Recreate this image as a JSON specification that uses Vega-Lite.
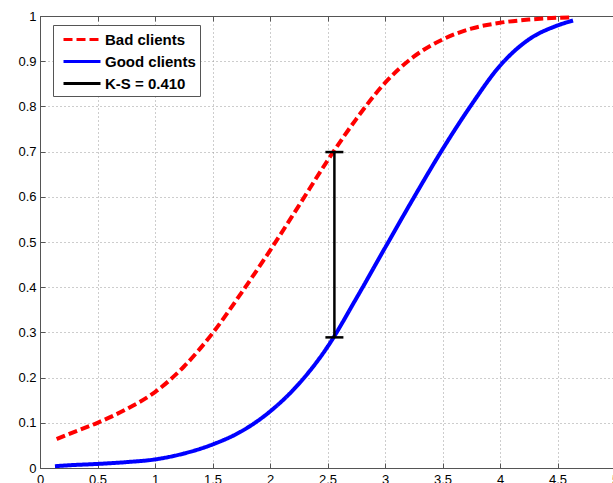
{
  "$schema": "https://vega.github.io/schema/vega-lite/v6.json",
  "width": 573,
  "height": 452,
  "autosize": "none",
  "padding": {"left": 40, "top": 16, "right": 0, "bottom": 15},
  "background": "white",
  "config": {
    "view": {"stroke": null},
    "font": "Liberation Sans",
    "axis": {
      "labelFont": "Liberation Sans",
      "labelFontSize": 13,
      "labelColor": "black",
      "domainColor": "#555555",
      "tickColor": "#555555",
      "gridColor": "#9a9a9a",
      "gridDash": [1, 3],
      "gridOpacity": 1,
      "tickSize": -5,
      "title": null
    },
    "legend": {
      "orient": "none",
      "legendX": 13,
      "legendY": 9,
      "title": null,
      "symbolType": "M-0.444,0H3.667",
      "symbolSize": 324,
      "symbolStrokeWidth": 3,
      "labelFont": "Liberation Sans",
      "labelFontSize": 15,
      "labelFontWeight": "bold",
      "labelColor": "black",
      "strokeColor": "#555555",
      "fillColor": "white",
      "padding": 4,
      "rowPadding": 3,
      "labelOffset": 27
    }
  },
  "datasets": {
    "curves": [
      {"series": "Bad clients", "x": 0.145, "y": 0.064},
      {"series": "Bad clients", "x": 0.25, "y": 0.075},
      {"series": "Bad clients", "x": 0.5, "y": 0.1},
      {"series": "Bad clients", "x": 0.75, "y": 0.13},
      {"series": "Bad clients", "x": 1.0, "y": 0.168},
      {"series": "Bad clients", "x": 1.25, "y": 0.224},
      {"series": "Bad clients", "x": 1.5, "y": 0.298},
      {"series": "Bad clients", "x": 1.75, "y": 0.387},
      {"series": "Bad clients", "x": 2.0, "y": 0.481},
      {"series": "Bad clients", "x": 2.25, "y": 0.58},
      {"series": "Bad clients", "x": 2.5, "y": 0.68},
      {"series": "Bad clients", "x": 2.75, "y": 0.772},
      {"series": "Bad clients", "x": 3.0, "y": 0.852},
      {"series": "Bad clients", "x": 3.25, "y": 0.91},
      {"series": "Bad clients", "x": 3.5, "y": 0.948},
      {"series": "Bad clients", "x": 3.75, "y": 0.972},
      {"series": "Bad clients", "x": 4.0, "y": 0.985},
      {"series": "Bad clients", "x": 4.25, "y": 0.992},
      {"series": "Bad clients", "x": 4.5, "y": 0.996},
      {"series": "Bad clients", "x": 4.635, "y": 0.997},
      {"series": "Good clients", "x": 0.13, "y": 0.004},
      {"series": "Good clients", "x": 0.25, "y": 0.006},
      {"series": "Good clients", "x": 0.5, "y": 0.009},
      {"series": "Good clients", "x": 0.75, "y": 0.013},
      {"series": "Good clients", "x": 1.0, "y": 0.019},
      {"series": "Good clients", "x": 1.25, "y": 0.032},
      {"series": "Good clients", "x": 1.5, "y": 0.052},
      {"series": "Good clients", "x": 1.75, "y": 0.081},
      {"series": "Good clients", "x": 2.0, "y": 0.125},
      {"series": "Good clients", "x": 2.25, "y": 0.186},
      {"series": "Good clients", "x": 2.5, "y": 0.268},
      {"series": "Good clients", "x": 2.75, "y": 0.375},
      {"series": "Good clients", "x": 3.0, "y": 0.487},
      {"series": "Good clients", "x": 3.25, "y": 0.598},
      {"series": "Good clients", "x": 3.5, "y": 0.705},
      {"series": "Good clients", "x": 3.75, "y": 0.803},
      {"series": "Good clients", "x": 4.0, "y": 0.89},
      {"series": "Good clients", "x": 4.25, "y": 0.948},
      {"series": "Good clients", "x": 4.5, "y": 0.979},
      {"series": "Good clients", "x": 4.635, "y": 0.99}
    ],
    "ks": [
      {"series": "K-S = 0.410", "x": 2.56, "lo": 0.289, "hi": 0.699}
    ],
    "caps": [
      {"x": 2.56, "y": 0.289},
      {"x": 2.56, "y": 0.699}
    ]
  },
  "layer": [
    {
      "data": {"name": "curves"},
      "mark": {"type": "line", "strokeWidth": 4, "interpolate": "monotone"},
      "encoding": {
        "x": {
          "field": "x", "type": "quantitative",
          "scale": {"domain": [0, 5], "range": [0, 575], "nice": false, "zero": false},
          "axis": {"orient": "bottom", "values": [0, 0.5, 1, 1.5, 2, 2.5, 3, 3.5, 4, 4.5, 5], "format": "~g", "grid": true, "labelPadding": 10, "labelFlush": false}
        },
        "y": {
          "field": "y", "type": "quantitative",
          "scale": {"domain": [0, 1], "nice": false},
          "axis": {"orient": "left", "values": [0, 0.1, 0.2, 0.3, 0.4, 0.5, 0.6, 0.7, 0.8, 0.9, 1], "format": "~g", "grid": true, "labelPadding": 9, "labelFlush": false}
        },
        "color": {
          "field": "series", "type": "nominal",
          "scale": {"domain": ["Bad clients", "Good clients", "K-S = 0.410"], "range": ["#ff0000", "#0000ff", "#000000"]}
        },
        "strokeDash": {
          "field": "series", "type": "nominal",
          "scale": {"domain": ["Bad clients", "Good clients", "K-S = 0.410"], "range": [[9, 4], [1, 0], [1, 0]]}
        }
      }
    },
    {
      "data": {"name": "ks"},
      "mark": {"type": "rule", "strokeWidth": 2.5},
      "encoding": {
        "x": {
          "field": "x", "type": "quantitative",
          "axis": {"orient": "top", "values": [0, 0.5, 1, 1.5, 2, 2.5, 3, 3.5, 4, 4.5, 5], "labels": false, "grid": false}
        },
        "y": {"field": "lo", "type": "quantitative", "axis": null},
        "y2": {"field": "hi"},
        "color": {"field": "series", "type": "nominal"},
        "strokeDash": {"field": "series", "type": "nominal"}
      }
    },
    {
      "data": {"name": "caps"},
      "mark": {"type": "tick", "orient": "horizontal", "size": 18, "thickness": 2.5, "color": "#000000", "opacity": 1},
      "encoding": {
        "x": {"field": "x", "type": "quantitative", "axis": null},
        "y": {"field": "y", "type": "quantitative", "axis": null}
      }
    }
  ],
  "resolve": {"axis": {"x": "independent", "y": "independent"}}
}
